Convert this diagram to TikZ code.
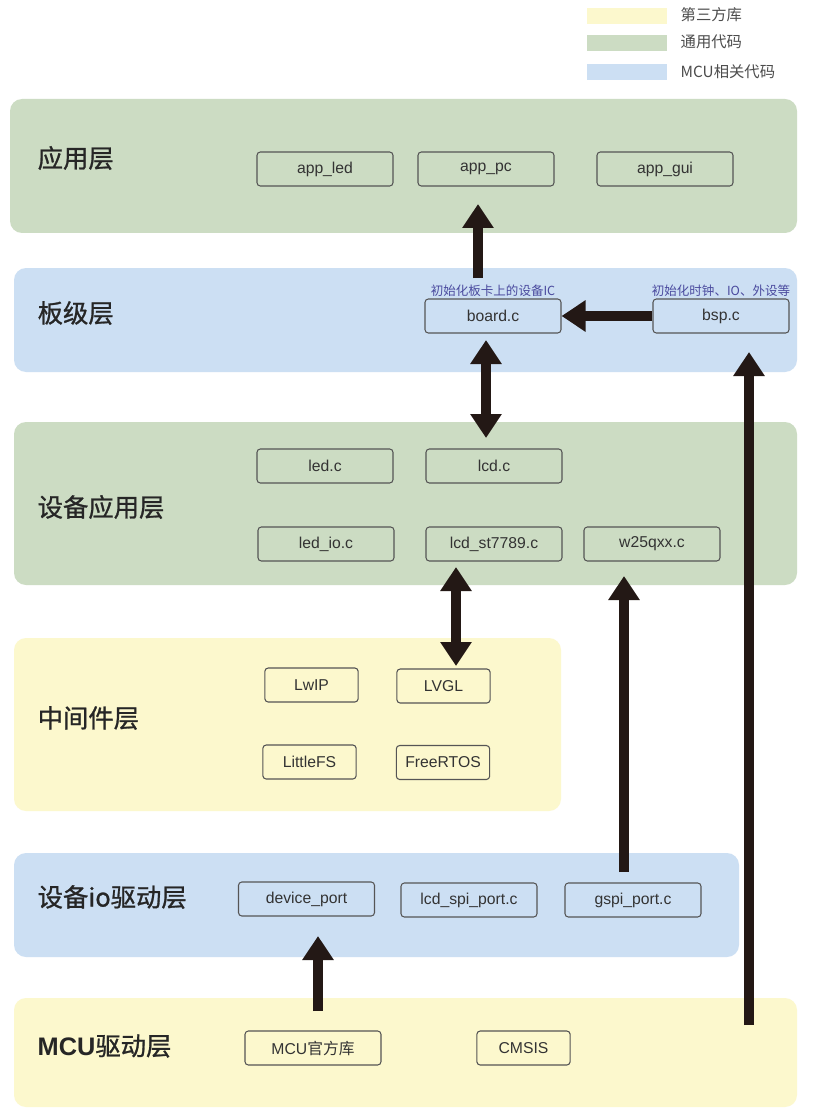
\documentclass[tikz,border=0pt]{standalone}
\usepackage{fontspec}
\setmainfont{Liberation Sans}
\newfontfamily\cjk{Noto Sans CJK SC}
\newfontfamily\cjkb[FakeBold=1]{Noto Sans CJK SC}
\usetikzlibrary{arrows.meta}
\definecolor{lgreen}{HTML}{CCDCC3}
\definecolor{lblue}{HTML}{CCDFF3}
\definecolor{lyellow}{HTML}{FCF8CD}
\definecolor{arrowc}{HTML}{231815}
\definecolor{boxline}{HTML}{555555}
\definecolor{notec}{HTML}{4A4A9E}
\definecolor{txt}{HTML}{333333}
\tikzset{
  layer/.style={rounded corners=9pt},
  filebox/.style={draw=boxline, line width=0.8pt, rounded corners=2.5pt, minimum height=25.5pt, minimum width=102pt, inner sep=0pt, text=txt, font=\fontsize{11.8}{13}\selectfont},
  smallbox/.style={filebox, minimum width=70pt},
  layerlabel/.style={anchor=west, text=black!85, font=\cjkb\fontsize{19}{21}\selectfont},
  legendtext/.style={anchor=west, text=black!70, font=\cjk\fontsize{11.5}{13}\selectfont},
  note/.style={text=notec, font=\cjk\fontsize{9.4}{11}\selectfont, inner sep=0pt},
  bigarrow/.style={draw=arrowc, line width=7.5pt, -{Triangle[width=22.5pt,length=18pt]}},
  dblarrow/.style={draw=arrowc, line width=7.5pt, {Triangle[width=22.5pt,length=18pt]}-{Triangle[width=22.5pt,length=18pt]}}
}
\begin{document}
\begin{tikzpicture}[x=0.75pt,y=-0.75pt]
\fill[white] (0,0) rectangle (820,1116);
\useasboundingbox (0,0) rectangle (820,1116);
% legend
\fill[lyellow] (587,8) rectangle (667,24);
\fill[lgreen] (587,35) rectangle (667,51);
\fill[lblue] (587,64) rectangle (667,80);
\node[legendtext] (lg1) at (676,15) {第三方库};
\node[legendtext] (lg2) at (676,42) {通用代码};
\node[legendtext] (lg3) at (676,72) {MCU相关代码};
% layers
\fill[lgreen,layer] (10,99) rectangle (797,233);
\fill[lblue,layer] (14,268) rectangle (797,372);
\fill[lgreen,layer] (14,422) rectangle (797,585);
\fill[lyellow,layer] (14,638) rectangle (561,811);
\fill[lblue,layer] (14,853) rectangle (739,957);
\fill[lyellow,layer] (14,998) rectangle (797,1107);
\node[layerlabel] (L1) at (33,158) {应用层};
\node[layerlabel] (L2) at (33,313) {板级层};
\node[layerlabel] (L3) at (33,507) {设备应用层};
\node[layerlabel] (L4) at (33,718) {中间件层};
\node[layerlabel] (L5) at (33,897) {设备io驱动层};
\node[layerlabel] (L6) at (33,1046) {{\fontspec{Liberation Sans}\bfseries MCU}驱动层};
% application
\node[filebox] (appled) at (325,169) {app\_led};
\node[filebox] (apppc) at (486,169) {app\_pc};
\node[filebox] (appgui) at (665,169) {app\_gui};
% board
\node[filebox] (board) at (493,316) {board.c};
\node[filebox] (bsp) at (721,316) {bsp.c};
\node[note] (n1) at (493,291) {初始化板卡上的设备IC};
\node[note] (n2) at (721,291) {初始化时钟、IO、外设等};
% device app
\node[filebox] (led) at (325,466) {led.c};
\node[filebox] (lcd) at (494,466) {lcd.c};
\node[filebox] (ledio) at (326,544) {led\_io.c};
\node[filebox] (lcdst) at (494,544) {lcd\_st7789.c};
\node[filebox] (w25) at (652,544) {w25qxx.c};
% middleware
\node[smallbox] (lwip) at (311.5,685) {LwIP};
\node[smallbox] (lvgl) at (443.5,686) {LVGL};
\node[smallbox] (lfs) at (309.5,762) {LittleFS};
\node[smallbox] (frtos) at (443,762.5) {FreeRTOS};
% device io
\node[filebox] (devport) at (306.5,899) {device\_port};
\node[filebox] (lcdspi) at (469,900) {lcd\_spi\_port.c};
\node[filebox] (gspi) at (633,900) {gspi\_port.c};
% mcu
\node[filebox] (mculib) at (313,1048) {MCU{\cjk 官方库}};
\node[smallbox] (cmsis) at (523.5,1048) {CMSIS};
% arrows
\coordinate (a1s) at (478,278); \coordinate (a1e) at (478,204);
\draw[bigarrow] (a1s) -- (a1e);
\draw[bigarrow] (bsp.west) -- (board.east);
\coordinate (a3s) at (486,340); \coordinate (a3e) at (486,438);
\draw[dblarrow] (a3s) -- (a3e);
\coordinate (a4s) at (456,567); \coordinate (a4e) at (456,666);
\draw[dblarrow] (a4s) -- (a4e);
\coordinate (a5s) at (624,872); \coordinate (a5e) at (624,576);
\draw[bigarrow] (a5s) -- (a5e);
\coordinate (a6s) at (749,1025); \coordinate (a6e) at (749,352);
\draw[bigarrow] (a6s) -- (a6e);
\coordinate (a7s) at (318,1011); \coordinate (a7e) at (318,936);
\draw[bigarrow] (a7s) -- (a7e);
\end{tikzpicture}
\end{document}
